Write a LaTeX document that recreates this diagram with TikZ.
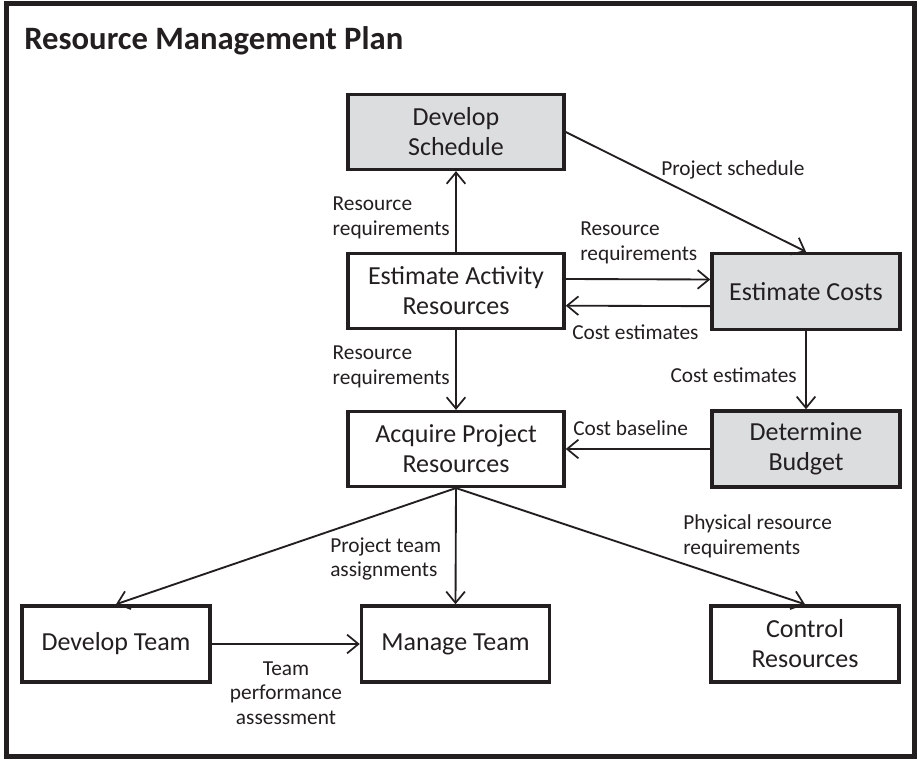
\documentclass[tikz,border=0pt]{standalone}
\usepackage{fontspec}
\setmainfont{Carlito}
\usetikzlibrary{arrows.meta}
\definecolor{shade}{RGB}{220,221,223}
\definecolor{ink}{RGB}{35,31,32}
\tikzset{
  >={Straight Barb[length=8.5pt,width=14pt,line width=1.3pt]},
  proc/.style={draw=ink,fill=#1,text=ink,line width=2.6pt,minimum width=141pt,
    minimum height=57pt,align=center,font=\fontsize{19.5}{22.5}\selectfont},
  proc/.default=white,
  wide/.style={minimum width=162pt,minimum height=56pt},
  flow/.style={->,line width=1.4pt,draw=ink},
  tag/.style={font=\fontsize{16}{18.5}\selectfont,text=ink,align=left,inner sep=0pt},
}
\begin{document}
\begin{tikzpicture}[x=0.75pt,y=-0.75pt]
  \useasboundingbox (0,0) rectangle (919,759);
  \draw[ink,line width=3.75pt] (6.5,3.5) rectangle (914.5,756.5);
  \node[anchor=base west,inner sep=0pt,text=ink,font=\fontsize{24.5}{30}\selectfont\bfseries]
    (title) at (24,50) {Resource Management Plan};
  % processes
  \node[proc=shade,wide] (ds) at (456,132) {Develop\\Schedule};
  \node[proc,wide] (ear) at (456,291) {Estimate Activity\\Resources};
  \node[proc=shade] (ec) at (806,291.5) {Estimate Costs};
  \node[proc,wide] (acq) at (456,449) {Acquire Project\\Resources};
  \node[proc=shade] (db) at (806,449) {Determine\\Budget};
  \node[proc] (dt) at (116,644) {Develop Team};
  \node[proc] (mt) at (455.5,644) {Manage Team};
  \node[proc] (cr) at (805,644) {Control\\Resources};
  % flows
  \draw[flow] (ear) -- (ds);
  \draw[flow] (ds.east) -- (ec.north);
  \draw[flow] ([yshift=9pt]ear.east) -- ([yshift=9pt]ec.west);
  \draw[flow] ([yshift=-11pt]ec.west) -- ([yshift=-11pt]ear.east);
  \draw[flow] (ear) -- (acq);
  \draw[flow] (ec) -- (db);
  \draw[flow] (db) -- (acq);
  \draw[flow] (acq.south) -- (dt.north);
  \draw[flow] (acq.south) -- (mt.north);
  \draw[flow] (acq.south) -- (cr.north);
  \draw[flow] (dt) -- (mt);
  % labels
  \node[tag,anchor=east] (l1) at (450,218) {Resource\\requirements};
  \node[tag,anchor=west] (l2) at (661,170) {Project schedule};
  \node[tag,anchor=west] (l3) at (580,243) {Resource\\requirements};
  \node[tag,anchor=west] (l4) at (572,332) {Cost estimates};
  \node[tag,anchor=east] (l5) at (450,367) {Resource\\requirements};
  \node[tag,anchor=east] (l6) at (797,375) {Cost estimates};
  \node[tag,anchor=west] (l7) at (573,428) {Cost baseline};
  \node[tag,anchor=west] (l8) at (330,559) {Project team\\assignments};
  \node[tag,anchor=west] (l9) at (683,536) {Physical resource\\requirements};
  \node[tag,align=center] (l10) at (286,693) {Team\\performance\\assessment};
\end{tikzpicture}
\end{document}
